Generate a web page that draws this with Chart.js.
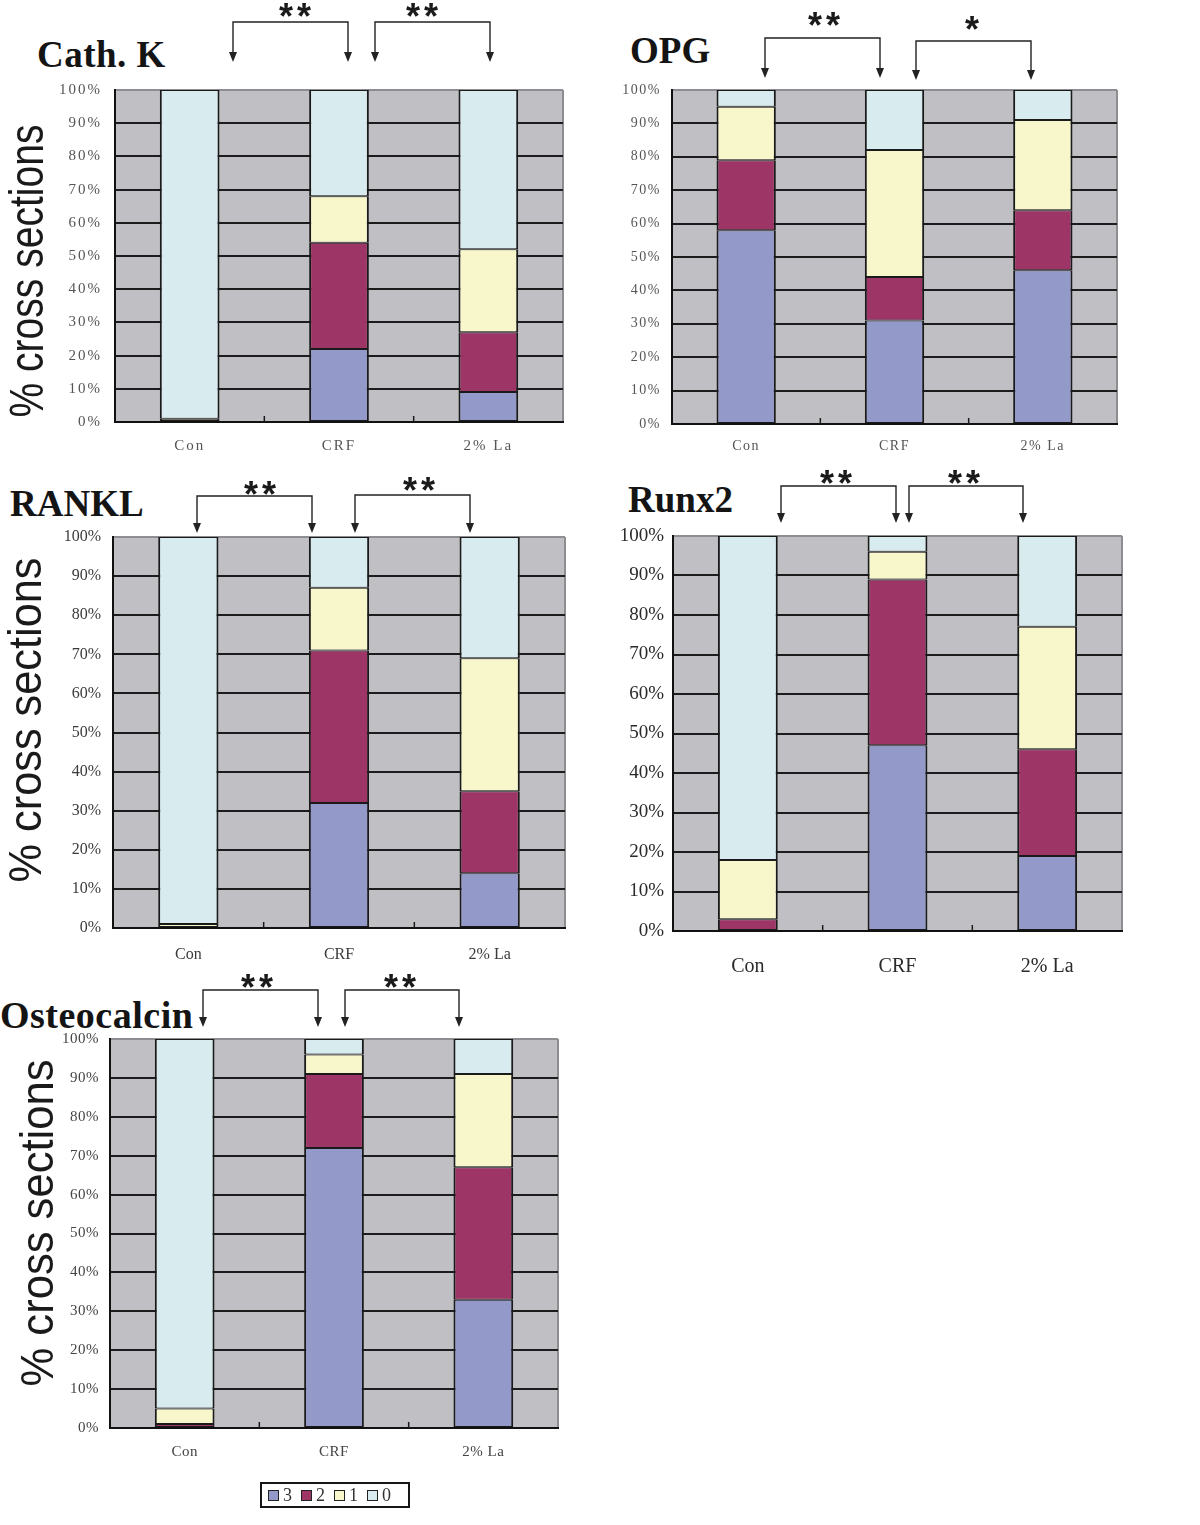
<!DOCTYPE html>
<html>
<head>
<meta charset="utf-8">
<script src="https://cdn.jsdelivr.net/npm/chart.js@4.4.1/dist/chart.umd.min.js"></script>
<style>
  body { margin: 0; background: #fff; }
  #page { position: relative; width: 1200px; height: 1525px; overflow: hidden; }
  canvas { position: absolute; }
  .ttl { position: absolute; font-family: "Liberation Serif", serif; font-weight: bold; font-size: 37px; line-height: 1; color: #141414; white-space: nowrap; }
  #marks { position: absolute; left: 0; top: 0; }
  #legend { position: absolute; left: 260px; top: 1482px; width: 150px; height: 26px; border: 2px solid #161616; display: flex; align-items: center; padding-left: 6px; box-sizing: border-box; font-family: "Liberation Serif", serif; font-size: 18px; color: #333; }
  #legend span.sq { display: inline-block; width: 9px; height: 9px; border: 1.5px solid #222; margin-right: 4px; }
  #legend span.it { display: inline-flex; align-items: center; margin-right: 9px; }
</style>
</head>
<body>
<div id="page">
  <div class="ttl" style="left:37px;top:36px;letter-spacing:0.5px">Cath. K</div>
  <div class="ttl" style="left:630px;top:32px">OPG</div>
  <div class="ttl" style="left:10px;top:485px">RANKL</div>
  <div class="ttl" style="left:628px;top:481px">Runx2</div>
  <div class="ttl" style="left:0px;top:996px;font-size:38px;letter-spacing:0.5px">Osteocalcin</div>

  <canvas id="cathK"></canvas>
  <canvas id="opg"></canvas>
  <canvas id="rankl"></canvas>
  <canvas id="runx2"></canvas>
  <canvas id="osteo"></canvas>

  <svg id="marks" width="1200" height="1525"></svg>
  <div id="legend"></div>
</div>

<script>
const groups = ['Con', 'CRF', '2% La'];
const scores = ['3', '2', '1', '0'];
const scoreColors = ['#9399c8', '#9e3567', '#f8f7cb', '#d8ebee'];

// % cross sections per staining score, values for Con / CRF / 2% La
const cathK3 = [0, 22, 9];
const cathK2 = [0, 32, 18];
const cathK1 = [1, 14, 25];
const cathK0 = [99, 32, 48];

const opg3 = [58, 31, 46];
const opg2 = [21, 13, 18];
const opg1 = [16, 38, 27];
const opg0 = [5, 18, 9];

const rankl3 = [0, 32, 14];
const rankl2 = [0, 39, 21];
const rankl1 = [1, 16, 34];
const rankl0 = [99, 13, 31];

const runx3 = [0, 47, 19];
const runx2 = [3, 42, 27];
const runx1 = [15, 7, 31];
const runx0 = [82, 4, 23];

const osteo3 = [0, 72, 33];
const osteo2 = [1, 19, 34];
const osteo1 = [4, 5, 24];
const osteo0 = [95, 4, 9];

const yTickValues = [0, 10, 20, 30, 40, 50, 60, 70, 80, 90, 100];
const yTitleText = '% cross sections';

// significance brackets: [x1, x2, topY, tipY, label, labelX, labelY]
const brackets = [
  [233, 348, 22, 62, '**', 297, 9],
  [375, 490, 22, 62, '**', 424, 9],
  [765, 880, 38, 78, '**', 826, 18],
  [916, 1031, 41, 80, '*', 974, 22],
  [197, 312, 496, 533, '**', 262, 487],
  [355, 470, 495, 533, '**', 421, 483],
  [781, 896, 486, 523, '**', 838, 476],
  [909, 1023, 486, 523, '**', 966, 476],
  [203, 318, 990, 1027, '**', 259, 980],
  [345, 459, 990, 1027, '**', 402, 980]
];

// background, category separators and the squeezed y title
const plotDecor = {
  id: 'plotDecor',
  beforeDraw(chart, args, opts) {
    const {ctx, chartArea: a} = chart;
    ctx.save();
    ctx.fillStyle = '#c0c0c4';
    ctx.fillRect(a.left, a.top, a.right - a.left, a.bottom - a.top);
    ctx.strokeStyle = '#8e8e92';
    ctx.lineWidth = 2;
    ctx.beginPath();
    ctx.moveTo(a.right, a.bottom);
    ctx.lineTo(a.right, a.top);
    ctx.stroke();
    ctx.restore();
    ctx.letterSpacing = (opts.spacing || 0) + 'px';
  },
  afterDraw(chart, args, opts) {
    const {ctx, chartArea: a} = chart;
    const x = chart.scales.x;
    ctx.letterSpacing = '0px';
    ctx.save();
    ctx.strokeStyle = '#1a1a1a';
    ctx.lineWidth = 1.5;
    for (let i = 1; i < groups.length; i++) {
      const mid = (x.getPixelForValue(i - 1) + x.getPixelForValue(i)) / 2;
      ctx.beginPath();
      ctx.moveTo(mid, a.bottom);
      ctx.lineTo(mid, a.bottom - 6);
      ctx.stroke();
    }
    ctx.restore();

    const t = opts.title;
    if (t) {
      ctx.save();
      ctx.translate(t.x, t.y);
      ctx.rotate(-Math.PI / 2);
      ctx.font = t.size + 'px "Liberation Sans"';
      ctx.fillStyle = '#1a1a1a';
      ctx.textAlign = 'center';
      ctx.textBaseline = 'alphabetic';
      ctx.fillText(yTitleText, 0, 0, t.len);
      ctx.restore();
    }
  }
};

function makeChart(id, series, look) {
  const el = document.getElementById(id);
  const b = look.box, p = look.plot;
  el.width = b.w;
  el.height = b.h;
  el.style.left = b.x + 'px';
  el.style.top = b.y + 'px';

  const yW = p.left - b.x;
  const xH = (b.y + b.h) - p.bottom;
  const tickFont = {family: 'Liberation Serif', size: look.tickSize};
  const xFont = {family: 'Liberation Serif', size: look.xSize || look.tickSize};
  const title = look.yTitle ? {
    x: look.yTitle.x - b.x, y: look.yTitle.y - b.y, size: look.yTitle.size, len: look.yTitle.len
  } : null;

  return new Chart(el, {
    type: 'bar',
    data: {
      labels: groups,
      datasets: series.map((d, i) => ({
        label: scores[i],
        data: d,
        backgroundColor: scoreColors[i],
        borderColor: '#1a1a1a',
        borderWidth: {top: 1, bottom: 1, left: 2, right: 2},
        borderSkipped: false,
        barPercentage: 0.4,
        categoryPercentage: 1
      }))
    },
    options: {
      responsive: false,
      animation: false,
      events: [],
      layout: {padding: {top: p.top - b.y, right: (b.x + b.w) - p.right, left: 0, bottom: 0}},
      plugins: {
        legend: {display: false},
        tooltip: {enabled: false},
        plotDecor: {spacing: look.spacing, title: title}
      },
      scales: {
        x: {
          stacked: true,
          grid: {display: false},
          border: {color: '#111', width: 2},
          ticks: {font: xFont, color: look.tickColor, padding: look.xPad, maxRotation: 0},
          afterFit: s => { s.height = xH; s.paddingLeft = 0; s.paddingRight = 0; }
        },
        y: {
          stacked: true,
          min: 0,
          max: 100,
          afterBuildTicks: s => { s.ticks = yTickValues.map(v => ({value: v})); },
          ticks: {font: tickFont, color: look.tickColor, padding: look.yPad, callback: v => v + '%'},
          grid: {
            color: c => (c.tick && c.tick.value === 100) ? '#8e8e92' : '#1c1c1c',
            lineWidth: 2,
            drawTicks: false
          },
          border: {color: '#111', width: 2},
          afterFit: s => { s.width = yW; s.paddingTop = 0; s.paddingBottom = 0; }
        }
      }
    },
    plugins: [plotDecor]
  });
}

makeChart('cathK', [cathK3, cathK2, cathK1, cathK0], {
  box: {x: 0, y: 78, w: 576, h: 384},
  plot: {left: 115, right: 563, top: 90, bottom: 422},
  tickSize: 15, spacing: 2, tickColor: '#555', yPad: 13, xPad: 7,
  yTitle: {x: 43, y: 271, size: 48, len: 293}
});

makeChart('opg', [opg3, opg2, opg1, opg0], {
  box: {x: 600, y: 78, w: 530, h: 384},
  plot: {left: 672, right: 1117, top: 90, bottom: 424},
  tickSize: 14, spacing: 1.5, tickColor: '#555', yPad: 11, xPad: 6
});

makeChart('rankl', [rankl3, rankl2, rankl1, rankl0], {
  box: {x: 0, y: 525, w: 577, h: 449},
  plot: {left: 113, right: 565, top: 537, bottom: 928},
  tickSize: 16, spacing: 0, tickColor: '#3a3a3a', yPad: 12, xPad: 9,
  yTitle: {x: 41, y: 720, size: 47, len: 325}
});

makeChart('runx2', [runx3, runx2, runx1, runx0], {
  box: {x: 600, y: 522, w: 535, h: 464},
  plot: {left: 673, right: 1122, top: 536, bottom: 931},
  tickSize: 19, xSize: 20, spacing: 0, tickColor: '#2a2a2a', yPad: 9, xPad: 16
});

makeChart('osteo', [osteo3, osteo2, osteo1, osteo0], {
  box: {x: 0, y: 1027, w: 570, h: 447},
  plot: {left: 110, right: 558, top: 1039, bottom: 1428},
  tickSize: 15, spacing: 0.5, tickColor: '#444', yPad: 11, xPad: 7,
  yTitle: {x: 53, y: 1223, size: 47, len: 327}
});

// brackets with arrows and asterisks
const svg = document.getElementById('marks');
let out = '';
brackets.forEach(([x1, x2, top, tip, label, lx, ly]) => {
  out += `<path d="M${x1} ${tip - 8} V${top} H${x2} V${tip - 8}" fill="none" stroke="#222" stroke-width="1.4"/>`;
  [x1, x2].forEach(x => {
    out += `<polygon points="${x - 4},${tip - 10} ${x + 4},${tip - 10} ${x},${tip}" fill="#222"/>`;
  });
  out += `<text x="${lx}" y="${ly + 20}" text-anchor="middle" font-family="Liberation Sans" font-weight="bold" font-size="36" letter-spacing="4" fill="#1a1a1a">${label}</text>`;
});
svg.innerHTML = out;

// legend
const legend = document.getElementById('legend');
legend.innerHTML = scores.map((s, i) =>
  `<span class="it"><span class="sq" style="background:${scoreColors[i]}"></span>${s}</span>`
).join('');
</script>
</body>
</html>
